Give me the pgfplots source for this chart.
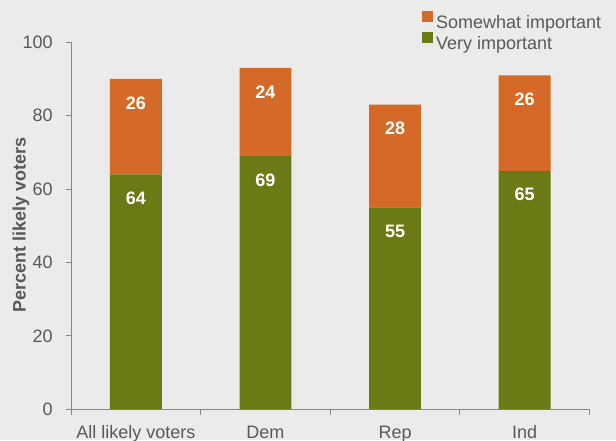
\documentclass[border=0pt]{standalone}
\usepackage{pgfplots}
\pgfplotsset{compat=1.18}
\usepackage{fontspec}
\setmainfont{Liberation Sans}
\definecolor{bg}{HTML}{EBEBEB}
\definecolor{org}{HTML}{D56928}
\definecolor{grn}{HTML}{6B7A14}
\definecolor{txt}{HTML}{595959}
\definecolor{axc}{HTML}{888888}
\begin{document}
\begin{tikzpicture}[x=1pt,y=1pt]
\useasboundingbox (0,0) rectangle (616,440);
\fill[bg] (0,0) rectangle (616,440);
\begin{axis}[
  at={(71.1pt,30.7pt)}, anchor=south west,
  scale only axis, width=518.3pt, height=367pt,
  xmin=-0.5, xmax=3.5, ymin=0, ymax=100,
  enlargelimits=false,
  ybar stacked, bar width=0.4,
  axis lines*=left,
  axis line style={draw=axc, line width=1.2pt},
  xtick={0,1,2,3},
  xticklabels={All likely voters,Dem,Rep,Ind},
  major x tick style={draw=none},
  minor xtick={-0.5,0.5,1.5,2.5,3.5},
  minor tick length=6pt,
  major tick length=5pt,
  tick align=outside,
  ytick={0,20,40,60,80,100},
  tick style={draw=axc, line width=1pt},
  /pgf/number format/assume math mode=true,
  ticklabel style={font=\fontsize{18}{20}\selectfont, text=txt},
  yticklabel style={anchor=east, xshift=-10pt},
  xticklabel style={yshift=-8pt},
  ylabel={Percent likely voters},
  every axis y label/.style={at={(axis description cs:-0.0967,0.501)}, rotate=90, anchor=center,
     font=\bfseries\fontsize{18}{20}\selectfont, text=txt},
  point meta=explicit symbolic,
  nodes near coords={\pgfplotspointmeta},
  every node near coord/.style={anchor=center, yshift={\pgfplotspointmeta*1.835pt-24pt}, text=white, font=\bfseries\fontsize{18}{20}\selectfont},
  legend image code/.code={\fill[#1] (0pt,1pt) rectangle (11pt,12pt);},
  reverse legend,
  legend style={at={(0.677,1.0867)}, anchor=north west, draw=none, fill=none,
     inner sep=0pt, column sep=1pt, row sep=0pt,
     nodes={inner sep=2pt, text=txt},
     font=\fontsize{18}{20}\selectfont},
  legend cell align=left,
]
\addplot[fill=grn, draw=none] coordinates {(0,64) [64] (1,69) [69] (2,55) [55] (3,65) [65]};
\addlegendentry{Very important}
\addplot[fill=org, draw=none] coordinates {(0,26) [26] (1,24) [24] (2,28) [28] (3,26) [26]};
\addlegendentry{Somewhat important}
\end{axis}
\end{tikzpicture}
\end{document}
